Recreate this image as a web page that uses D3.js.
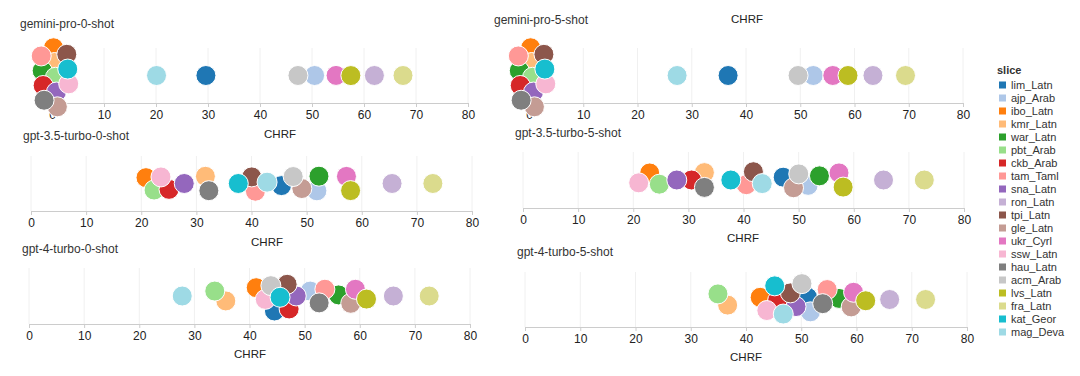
<!DOCTYPE html>
<html>
<head>
<meta charset="utf-8">
<script src="https://cdn.jsdelivr.net/npm/d3@7"></script>
<style>
body { margin: 0; background: #fff; }
text { font-family: "Liberation Sans", Arial, sans-serif; fill: #333; }
</style>
</head>
<body>
<svg width="1080" height="376"></svg>
<script>
// categories (legend order)
const slices = ["lim_Latn", "ajp_Arab", "ibo_Latn", "kmr_Latn", "war_Latn", "pbt_Arab", "ckb_Arab",
  "tam_Taml", "sna_Latn", "ron_Latn", "tpi_Latn", "gle_Latn", "ukr_Cyrl", "ssw_Latn", "hau_Latn",
  "acm_Arab", "lvs_Latn", "fra_Latn", "kat_Geor", "mag_Deva"];
const sliceColors = ["#1f77b4", "#aec7e8", "#ff7f0e", "#ffbb78", "#2ca02c", "#98df8a", "#d62728",
  "#ff9896", "#9467bd", "#c5b0d5", "#8c564b", "#c49c94", "#e377c2", "#f7b6d2", "#7f7f7f",
  "#c7c7c7", "#bcbd22", "#dbdb8d", "#17becf", "#9edae5"];
const tickValues = [0, 10, 20, 30, 40, 50, 60, 70, 80];

// CHRF per slice, same order as slices
const geminiPro0 = [29.6, 50.5, 0.1, 0.2, 0.0, 0.4, 0.0, 0.0, 0.3, 62.0, 0.9, 0.0, 54.8, 1.4, 0.0, 47.3, 57.3, 67.5, 1.9, 20.1];
const geminiPro5 = [36.7, 52.4, 0.1, 0.2, 0.0, 0.4, 0.0, 0.0, 0.3, 63.4, 0.9, 0.0, 56.0, 1.4, 0.0, 49.6, 58.8, 69.4, 1.9, 27.3];
const gpt35Turbo0 = [45.5, 51.9, 21.0, 31.7, 52.2, 22.2, 24.9, 40.7, 27.8, 65.5, 40.1, 49.0, 57.3, 23.7, 32.2, 47.6, 57.9, 72.9, 37.6, 42.8];
const gpt35Turbo5 = [47.3, 51.8, 23.0, 32.9, 53.6, 24.6, 30.5, 40.6, 28.0, 65.4, 41.8, 49.1, 57.4, 21.1, 32.9, 50.0, 58.0, 72.8, 37.7, 43.3];
const gpt4Turbo0 = [44.3, 51.0, 41.6, 35.5, 56.1, 33.9, 47.0, 53.7, 48.5, 66.1, 46.8, 58.2, 59.3, 43.1, 52.6, 43.7, 61.1, 72.6, 45.8, 27.8];
const gpt4Turbo5 = [51.1, 51.9, 42.6, 36.5, 56.9, 35.1, 45.8, 54.6, 48.6, 66.0, 48.3, 59.0, 59.5, 44.1, 53.7, 49.7, 61.6, 72.5, 45.3, 46.9];
const panelTitles = ["gemini-pro-0-shot", "gemini-pro-5-shot", "gpt-3.5-turbo-0-shot",
  "gpt-3.5-turbo-5-shot", "gpt-4-turbo-0-shot", "gpt-4-turbo-5-shot"];

const panelValues = [geminiPro0, geminiPro5, gpt35Turbo0, gpt35Turbo5, gpt4Turbo0, gpt4Turbo5];

// panel frames (left, right, top, axis y, title pos, axis-title pos)
const frames = [
  {x0: 52, x1: 468, top: 48, bottom: 103, tx: 20, ty: 28, lx: 280, ly: 138},
  {x0: 529, x1: 963, top: 48, bottom: 103, tx: 494, ty: 24, lx: 747, ly: 23},
  {x0: 31, x1: 472, top: 156, bottom: 211, tx: 23, ty: 140, lx: 267, ly: 246},
  {x0: 523, x1: 964, top: 152, bottom: 208, tx: 515, ty: 137, lx: 743, ly: 242},
  {x0: 29, x1: 470, top: 268, bottom: 324, tx: 22, ty: 253, lx: 250, ly: 358},
  {x0: 525, x1: 967, top: 272, bottom: 327, tx: 517, ty: 256, lx: 746, ly: 361}
];

const svg = d3.select("svg");
const color = d3.scaleOrdinal().domain(slices).range(sliceColors);
const r = 10;

frames.forEach((f, p) => {
  const x = d3.scaleLinear().domain([0, 80]).range([f.x0, f.x1]);
  const cy = (f.top + f.bottom) / 2;
  const g = svg.append("g");

  // grid
  g.selectAll("line.grid")
    .data(tickValues)
    .join("line")
    .attr("class", "grid")
    .attr("x1", d => x(d)).attr("x2", d => x(d))
    .attr("y1", f.top).attr("y2", f.bottom)
    .attr("stroke", "#f0f0f0");

  // axis
  const ax = g.append("g")
    .attr("transform", `translate(0,${f.bottom})`)
    .call(d3.axisBottom(x).tickValues(tickValues).tickSize(4).tickPadding(3));
  ax.select(".domain").attr("stroke", "#ccc");
  ax.selectAll(".tick line").attr("stroke", "#ccc");
  ax.selectAll(".tick text").attr("font-size", 12).style("fill", "#222");

  // beeswarm
  const nodes = slices.map((s, i) => ({slice: s, v: panelValues[p][i]}));
  const sim = d3.forceSimulation(nodes)
    .force("x", d3.forceX(d => x(d.v)).strength(0.6))
    .force("y", d3.forceY(cy).strength(0.12))
    .force("collide", d3.forceCollide(7.4))
    .stop();
  // shift the default phyllotaxis start onto the data positions
  nodes.forEach(d => { d.x = x(d.v) + d.x * 0.3; d.y = cy + d.y * 0.3; });
  for (let k = 0; k < 300; k++) sim.tick();

  g.selectAll("circle")
    .data(nodes)
    .join("circle")
    .attr("cx", d => d.x)
    .attr("cy", d => d.y)
    .attr("r", r)
    .attr("fill", d => color(d.slice))
    .attr("stroke", "#fff")
    .attr("stroke-width", 1);

  g.append("text")
    .attr("x", f.tx).attr("y", f.ty)
    .attr("font-size", 12)
    .text(panelTitles[p]);

  g.append("text")
    .attr("x", f.lx).attr("y", f.ly)
    .attr("text-anchor", "middle")
    .attr("font-size", 11.5)
    .style("fill", "#222")
    .text("CHRF");
});

// legend
const legend = svg.append("g").attr("transform", "translate(997,0)");
legend.append("text")
  .attr("x", 0).attr("y", 74)
  .attr("font-size", 11).attr("font-weight", "bold")
  .text("slice");
const item = legend.selectAll("g.item")
  .data(slices)
  .join("g")
  .attr("class", "item")
  .attr("transform", (d, i) => `translate(0,${85 + i * 13})`);
item.append("rect")
  .attr("x", 2).attr("y", -3.5)
  .attr("width", 7).attr("height", 7)
  .attr("fill", d => color(d));
item.append("text")
  .attr("x", 14).attr("y", 4)
  .attr("font-size", 11)
  .text(d => d);
</script>
</body>
</html>
